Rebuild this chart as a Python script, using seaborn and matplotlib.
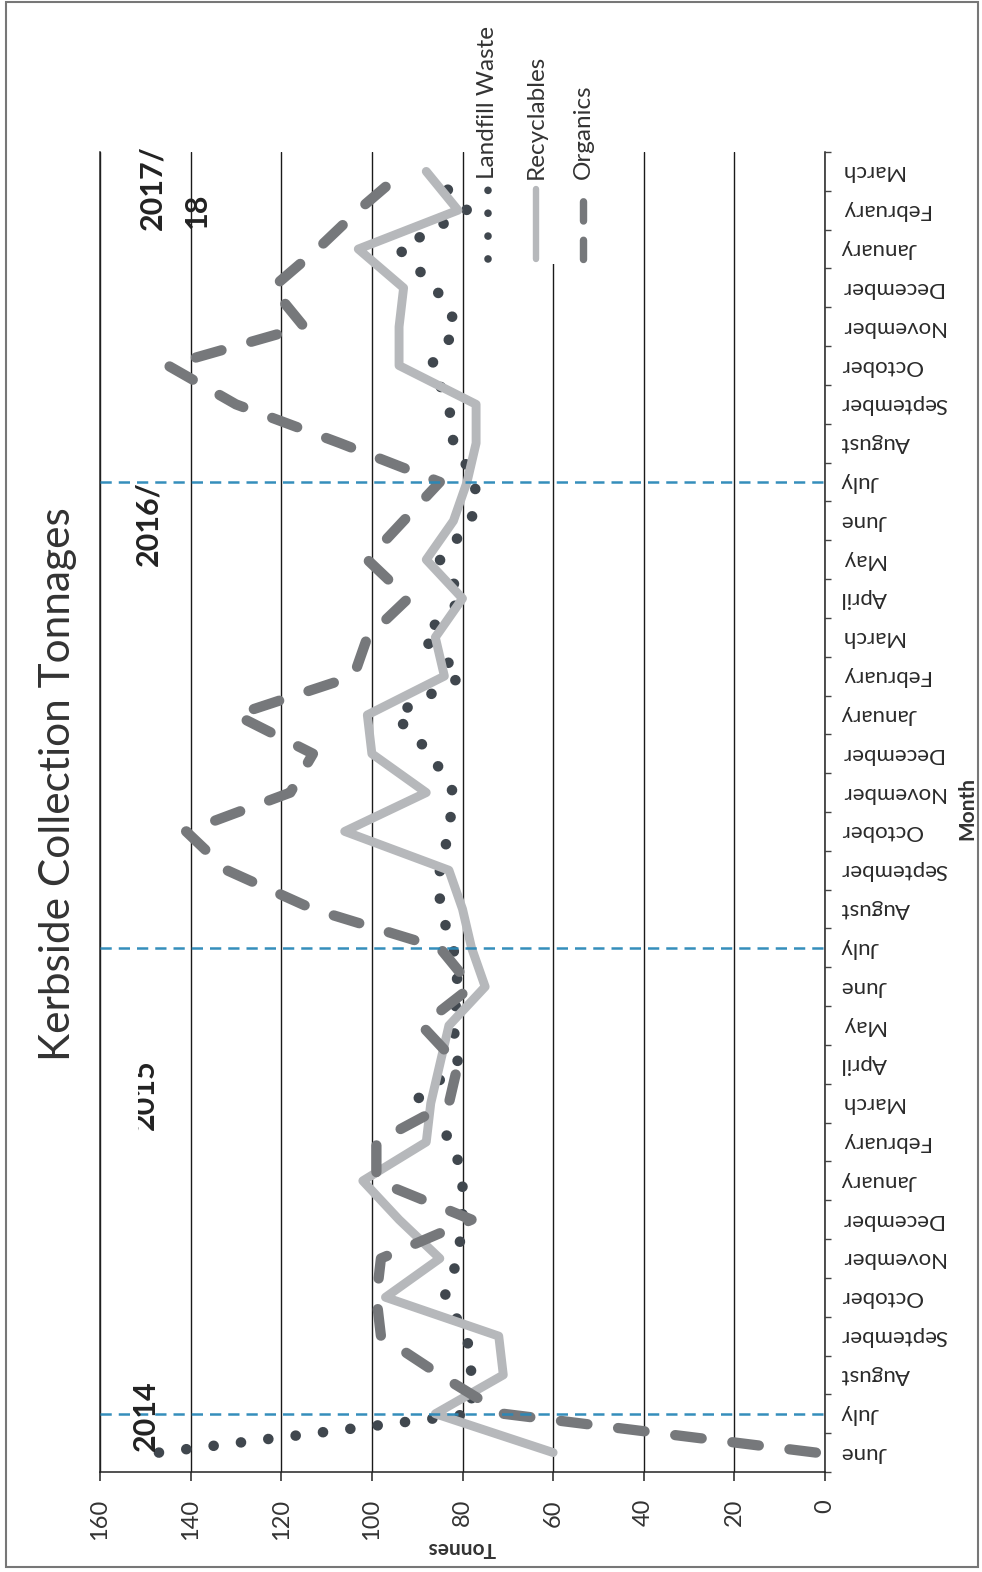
import numpy as np
import pandas as pd
import seaborn as sns
import matplotlib.pyplot as plt
from matplotlib.patches import Rectangle
from matplotlib.lines import Line2D
from matplotlib.transforms import Bbox, TransformedBbox

months = ['June', 'July', 'August', 'September', 'October', 'November', 'December',
          'January', 'February', 'March', 'April', 'May',
          'June', 'July', 'August', 'September', 'October', 'November', 'December',
          'January', 'February', 'March', 'April', 'May',
          'June', 'July', 'August', 'September', 'October', 'November', 'December',
          'January', 'February', 'March']
landfill = [147, 78, 78, 79, 84, 81, 80, 80, 82, 91, 81, 82, 81, 82, 85, 85, 83, 82, 87,
            95, 80, 89, 80, 85, 78, 77, 82, 83, 87, 81, 86, 94, 79, 87]
recyclables = [60, 86, 71, 72, 97, 85, 94, 102, 88, 87, 85, 83, 75, 78, 80, 83, 106, 88, 100,
               101, 84, 86, 80, 88, 82, 79, 77, 77, 94, 94, 93, 103, 81, 88]
organics = [2, 71, 85, 98, 99, 98, 78, 99, 99, 83, 81, 89, 78, 85, 113, 132, 141, 118, 113,
            130, 104, 101, 92, 101, 93, 85, 107, 130, 145, 115, 122, 112, 103, 93]
series_names = ['Landfill Waste', 'Recyclables', 'Organics']
july_idx = [1, 13, 25]
tonne_ticks = [0, 20, 40, 60, 80, 100, 120, 140, 160]

W, H = 982, 1572


def fx(px):
    return px / W


def fy(py):
    return 1 - py / H


sns.set_theme(style='white')
plt.rcParams['font.family'] = ['Lato', 'DejaVu Sans']

fig = plt.figure(figsize=(W / 100, H / 100), dpi=100)
ax = fig.add_axes([fx(100), fy(1472), fx(825) - fx(100), fy(152) - fy(1472)])

df = pd.DataFrame({'idx': np.arange(len(months)), 'Landfill Waste': landfill,
                   'Recyclables': recyclables, 'Organics': organics})

styles = {
    'Landfill Waste': dict(color='#40474e', lw=7.6, dashes=(0.01, 2.6), z=3),
    'Recyclables': dict(color='#b6b8bb', lw=6.4, dashes=None, z=4),
    'Organics': dict(color='#76787b', lw=7.4, dashes=(2.6, 3.0), z=5),
}
for name in series_names:
    st = styles[name]
    sns.lineplot(data=df, x=name, y='idx', orient='y', ax=ax, color=st['color'],
                 linewidth=st['lw'], zorder=st['z'], solid_capstyle='round',
                 dash_capstyle='round', solid_joinstyle='round')
    if st['dashes']:
        ax.lines[-1].set_dashes(st['dashes'])

for j in july_idx:
    ax.axhline(j, color='#2a88b8', lw=1.8, dashes=(4.5, 2.8), zorder=6, alpha=0.95)

ax.set_xlim(160, 0)
ax.set_ylim(-0.5, len(months) - 0.5)
ax.set_xlabel('')
ax.set_ylabel('')

ax.set_xticks(tonne_ticks)
ax.set_xticklabels([str(t) for t in tonne_ticks], rotation=90, fontsize=17, color='#333333')
ax.tick_params(axis='x', bottom=True, direction='out', length=6.5, width=1.2,
               color='#333333', pad=13)
ax.grid(axis='x', color='#1a1a1a', lw=1.0)
ax.grid(axis='y', visible=False)

ax.yaxis.tick_right()
ax.set_yticks(df['idx'])
ax.set_yticklabels(months, rotation=180, ha='left', va='center', fontsize=16, color='#2a2a2a')
ax.set_yticks(np.arange(-0.5, len(months), 1.0), minor=True)
ax.tick_params(axis='y', which='major', length=0, pad=11)
ax.tick_params(axis='y', which='minor', right=True, direction='out', length=4.5,
               width=1.0, color='#444444')

for side in ['left', 'right', 'bottom']:
    ax.spines[side].set_visible(True)
    ax.spines[side].set_color('#222222')
    ax.spines[side].set_linewidth(1.1)
ax.spines['top'].set_visible(False)

# titles and axis names
fig.text(fx(58), fy(784), 'Kerbside Collection Tonnages', rotation=90, ha='center',
         va='center', fontsize=30.5, color='#333333')
fig.text(fx(462), fy(1548), 'Tonnes', rotation=180, ha='center', va='center',
         fontsize=15, fontweight='bold', color='#333333')
fig.text(fx(967), fy(808), 'Month', rotation=90, ha='center', va='center',
         fontsize=15, fontweight='bold', color='#333333')

# financial year labels
year_kw = dict(rotation=90, ha='center', va='center', fontsize=22, fontweight='bold',
               color='#222222')
fig.text(fx(146), fy(1416), '2014', **year_kw)
t15 = fig.text(fx(145), fy(1095), '2015', **year_kw)
t15.set_clip_box(TransformedBbox(Bbox([[fx(138), fy(1150)], [fx(220), fy(1040)]]),
                                 fig.transFigure))
t15.set_clip_on(True)
fig.text(fx(148), fy(524), '2016/', **year_kw)
fig.text(fx(152), fy(188), '2017/', **year_kw)
fig.text(fx(197), fy(210), '18', **year_kw)

# legend (rotated, drawn by hand)
fig.add_artist(Rectangle((fx(474), fy(264)), fx(602) - fx(474), fy(6) - fy(264),
                         transform=fig.transFigure, facecolor='white', edgecolor='none',
                         zorder=1))
leg_x = [488, 536, 583]
for name, lx in zip(series_names, leg_x):
    st = styles[name]
    ln = Line2D([fx(lx), fx(lx)], [fy(259), fy(189)], transform=fig.transFigure,
                color=st['color'], lw=st['lw'] * 0.72, solid_capstyle='round',
                dash_capstyle='round', zorder=2)
    if name == 'Landfill Waste':
        ln.set_dashes((0.01, 3.0))
    elif name == 'Organics':
        ln.set_dashes((2.6, 2.6))
    fig.add_artist(ln)
    fig.text(fx(lx), fy(179), name, rotation=90, ha='center', va='bottom',
             fontsize=17.5, color='#333333', zorder=2)

fig.add_artist(Rectangle((fx(6), fy(1567)), fx(978) - fx(6), fy(2) - fy(1567),
                         transform=fig.transFigure, fill=False, edgecolor='#777777',
                         lw=1.5, zorder=3))

fig.savefig('out.png', dpi=100)
